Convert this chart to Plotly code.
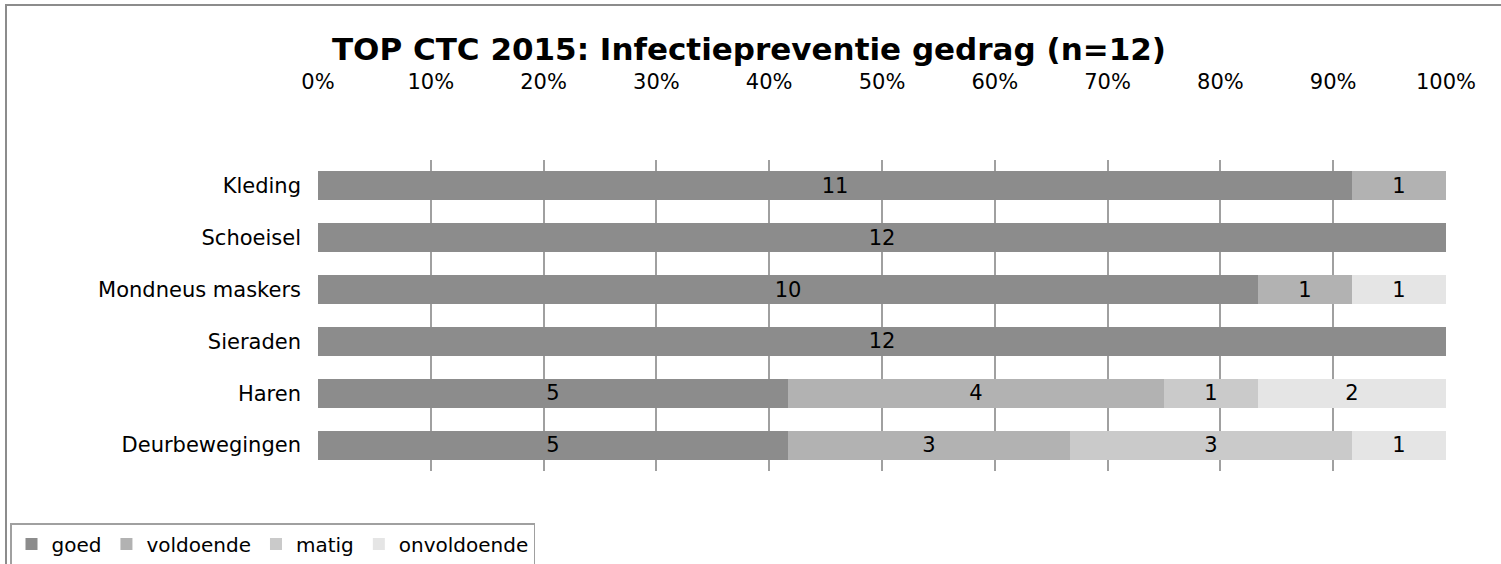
import plotly.graph_objects as go

categories = ["Kleding", "Schoeisel", "Mondneus maskers", "Sieraden", "Haren", "Deurbewegingen"]
series_names = ["goed", "voldoende", "matig", "onvoldoende"]
goed = [11, 12, 10, 12, 5, 5]
voldoende = [1, 0, 1, 0, 4, 3]
matig = [0, 0, 0, 0, 1, 3]
onvoldoende = [0, 0, 1, 0, 2, 1]
n_total = 12
colors = ["#8c8c8c", "#b2b2b2", "#cacaca", "#e5e5e5"]
tick_vals = [0, 10, 20, 30, 40, 50, 60, 70, 80, 90, 100]

font_family = "DejaVu Sans, Verdana, sans-serif"
fs = 21

fig = go.Figure()
for name, vals, col in zip(series_names, [goed, voldoende, matig, onvoldoende], colors):
    pct = [v / n_total * 100 for v in vals]
    fig.add_trace(go.Bar(
        y=categories, x=pct, name=name, orientation="h",
        marker=dict(color=col, line=dict(width=0)),
        text=[str(v) if v > 0 else "" for v in vals],
        textposition="inside", insidetextanchor="middle", textangle=0,
        textfont=dict(color="black", size=fs, family=font_family),
        constraintext="none",
    ))

fig.update_layout(
    barmode="stack",
    bargap=0.44,
    width=1501, height=564,
    margin=dict(l=318, r=55, t=160, b=93, autoexpand=False),
    paper_bgcolor="white", plot_bgcolor="white",
    uniformtext=dict(mode=False),
    font=dict(family=font_family, size=fs, color="black"),
    title=dict(text="<b>TOP CTC 2015: Infectiepreventie gedrag (n=12)</b>",
               x=749 / 1501, xanchor="center", y=1 - 49 / 564, yanchor="middle",
               font=dict(size=31, family=font_family, color="black")),
    xaxis=dict(side="top", range=[0, 100], tickvals=tick_vals,
               ticktext=[f"{t}%" for t in tick_vals],
               showgrid=True, gridcolor="#a0a0a0", gridwidth=2,
               zeroline=False, showline=False, ticks="", ticklen=0,
               ticklabelstandoff=66,
               tickfont=dict(size=fs), fixedrange=True),
    yaxis=dict(categoryorder="array", categoryarray=categories, autorange="reversed",
               showgrid=False, zeroline=False, showline=False, ticks="",
               ticklabelstandoff=16,
               tickfont=dict(size=fs)),
    legend=dict(orientation="h", x=(10 - 318) / 1128, y=(471 - 523) / 311,
                xanchor="left", yanchor="top", bgcolor="white",
                bordercolor="#a0a0a0", borderwidth=1.5,
                font=dict(size=20, family=font_family), traceorder="normal",
                itemwidth=30),
    showlegend=True,
)

fig.add_shape(type="rect", xref="paper", yref="paper",
              x0=(6 - 318) / 1128, x1=1.2, y0=-0.6, y1=(471 - 5) / 311,
              line=dict(color="#8c8c8c", width=2), fillcolor="rgba(0,0,0,0)", layer="below")

fig.write_html("out.html", config={"displayModeBar": False},
               post_script="document.body.style.margin='0';document.body.style.overflow='hidden';")
